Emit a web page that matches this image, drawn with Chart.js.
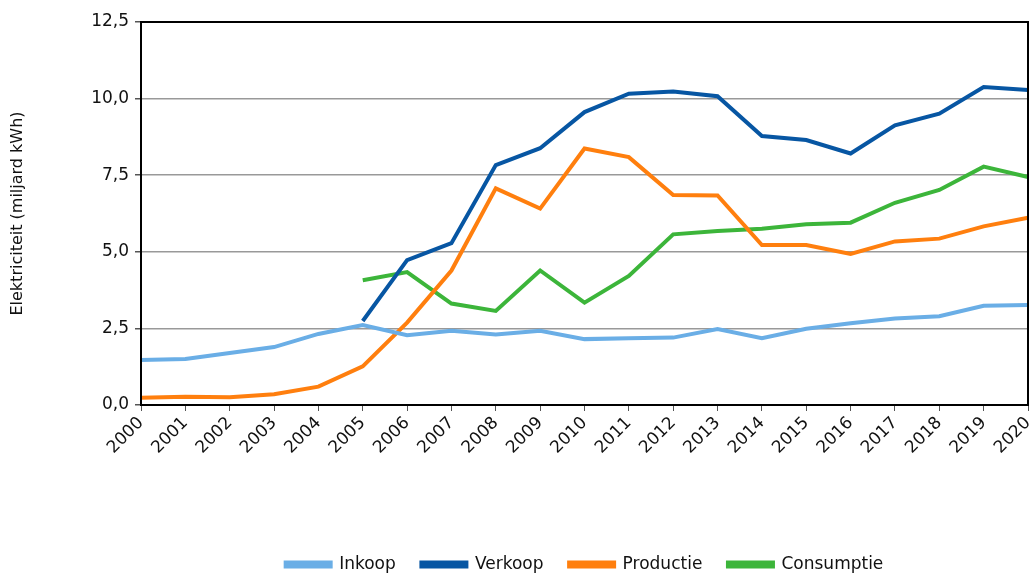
<html>
<head>
	<meta charset="utf-8">
	<title>Elektriciteit</title>
	<script src="https://cdn.jsdelivr.net/npm/chart.js@4.4.0/dist/chart.umd.min.js"></script>
	<style>
		body { margin: 0; background: #fff; }
		#wrap { width: 1035px; height: 573px; }
	</style>
</head>
<body>
	<div id="wrap">
		<canvas id="myChart" width="1035" height="573"></canvas>
	</div>

	<script>

		// jaren en waarden (miljard kWh)
		var jaren = ["2000","2001","2002","2003","2004","2005","2006","2007","2008","2009","2010",
			"2011","2012","2013","2014","2015","2016","2017","2018","2019","2020"];

		var inkoop = [1.47, 1.50, 1.70, 1.89, 2.32, 2.61, 2.28, 2.42, 2.30, 2.42, 2.15,
			2.18, 2.20, 2.48, 2.18, 2.49, 2.67, 2.82, 2.90, 3.24, 3.26];

		var verkoop = [null, null, null, null, null, 2.74, 4.73, 5.28, 7.83, 8.38, 9.56,
			10.16, 10.23, 10.08, 8.78, 8.65, 8.21, 9.13, 9.51, 10.38, 10.28];

		var productie = [0.24, 0.27, 0.25, 0.35, 0.60, 1.26, 2.69, 4.39, 7.07, 6.41, 8.37,
			8.09, 6.85, 6.84, 5.22, 5.22, 4.93, 5.34, 5.43, 5.83, 6.11];

		var consumptie = [null, null, null, null, null, 4.07, 4.34, 3.31, 3.07, 4.39, 3.34,
			4.21, 5.57, 5.68, 5.75, 5.90, 5.95, 6.60, 7.02, 7.78, 7.44];

		var yTicks = [0, 2.5, 5, 7.5, 10, 12.5];

		var lettertype = "'DejaVu Sans', Verdana, sans-serif";

		// rand rond het plotgebied
		var kader = {
			id: 'kader',
			afterDraw: function(chart) {
				var a = chart.chartArea;
				var c = chart.ctx;
				c.save();
				c.strokeStyle = '#000';
				c.lineWidth = 2;
				c.strokeRect(a.left, a.top, a.right - a.left, a.bottom - a.top);
				c.restore();
			}
		};

		function reeks(naam, kleur, data) {
			return {
				label: naam,
				data: data,
				borderColor: kleur,
				backgroundColor: kleur,
				borderWidth: 4,
				pointRadius: 0,
				fill: false,
				tension: 0,
				spanGaps: false
			};
		}

		var ctx = document.getElementById('myChart').getContext('2d');
		var chart = new Chart(ctx, {
			type: 'line',
			data: {
				labels: jaren,
				datasets: [
					reeks('Inkoop', '#6aaee6', inkoop),
					reeks('Verkoop', '#0756a3', verkoop),
					reeks('Productie', '#ff7f0e', productie),
					reeks('Consumptie', '#3cb53a', consumptie)
				]
			},
			plugins: [kader],
			options: {
				responsive: false,
				animation: false,
				layout: { padding: { top: 22, right: 7, bottom: -10, left: 0 } },
				plugins: {
					legend: {
						display: true,
						position: 'bottom',
						fullSize: false,
						labels: {
							boxWidth: 45,
							boxHeight: 4,
							padding: 4,
							color: '#111',
							font: { family: lettertype, size: 17 },
							generateLabels: function(chart) {
								var items = Chart.defaults.plugins.legend.labels.generateLabels(chart);
								items.forEach(function(it, i) {
									if (i < items.length - 1) it.text = it.text + '    ';
								});
								return items;
							}
						}
					},
					tooltip: { enabled: false }
				},
				scales: {
					x: {
						type: 'category',
						offset: false,
						grid: {
							drawOnChartArea: false,
							drawTicks: true,
							tickLength: 6,
							tickColor: '#555'
						},
						border: { display: true, color: '#000', width: 2 },
						ticks: {
							autoSkip: false,
							minRotation: 45,
							maxRotation: 45,
							color: '#111',
							padding: 2,
							font: { family: lettertype, size: 17 }
						},
						afterFit: function(s) {
							s.height = 147;
							s.paddingRight = 0;
						}
					},
					y: {
						min: 0,
						max: 12.5,
						afterBuildTicks: function(s) {
							s.ticks = yTicks.map(function(v) { return { value: v }; });
						},
						grid: {
							color: '#999',
							lineWidth: 1.5,
							drawTicks: true,
							tickLength: 6,
							tickColor: '#555'
						},
						border: { display: true, color: '#000', width: 2 },
						ticks: {
							color: '#111',
							padding: 6,
							font: { family: lettertype, size: 17 },
							callback: function(v) { return v.toFixed(1).replace('.', ','); }
						},
						title: {
							display: true,
							text: 'Elektriciteit (miljard kWh)',
							color: '#111',
							font: { family: lettertype, size: 16 },
							padding: { top: 8, bottom: 22 }
						},
						afterFit: function(s) { s.width = 141; }
					}
				}
			}
		});

	</script>
</body>
</html>
